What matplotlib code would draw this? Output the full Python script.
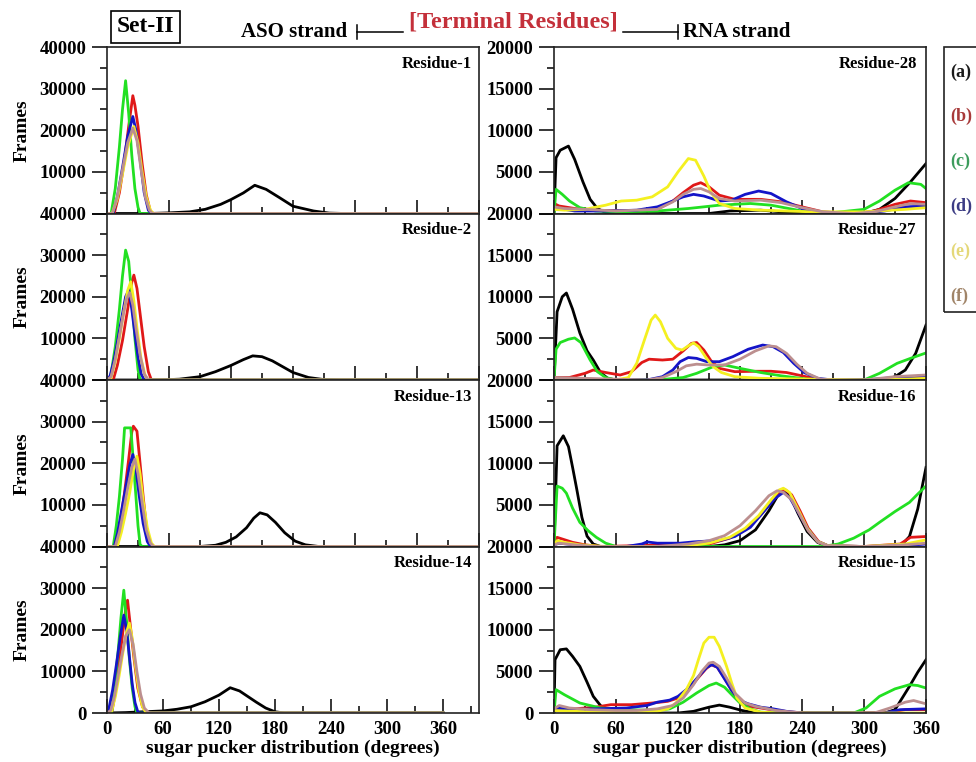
import matplotlib
matplotlib.use('Agg')
import matplotlib.pyplot as plt
from matplotlib.patches import Rectangle
from matplotlib.lines import Line2D
from matplotlib.ticker import MultipleLocator

plt.rcParams['font.family'] = ['Liberation Serif', 'DejaVu Serif']
plt.rcParams['font.weight'] = 'bold'

# (angle in degrees, frames) for every set; a..f as in the legend
# ---- ASO strand ----
r1_a = [(0, 0), (40, 0), (60, 150), (80, 400), (95, 1000), (110, 2200), (120, 3350), (132, 4950), (143, 6780),
        (154, 5800), (167, 3800), (180, 1750), (200, 600), (215, 100), (230, 0), (360, 0)]
r1_b = [(0, 0), (7, 0), (12, 5000), (17, 13000), (21, 21000), (25, 28300), (27, 26000), (30, 21000), (34, 12000),
        (38, 4500), (42, 500), (45, 0), (360, 0)]
r1_c = [(0, 0), (4, 0), (8, 6000), (12, 16000), (15, 25000), (18, 31900), (21, 24000), (24, 14000), (27, 6000),
        (30, 1500), (32, 0), (360, 0)]
r1_d = [(0, 0), (6, 0), (10, 4000), (15, 11000), (20, 18500), (25, 23300), (28, 20000), (32, 13000), (36, 5000),
        (40, 800), (43, 0), (360, 0)]
r1_e = [(0, 0), (5, 0), (10, 3500), (15, 9500), (20, 16000), (26, 20900), (30, 17000), (34, 10000), (38, 4000),
        (42, 800), (45, 0), (360, 0)]
r1_f = [(0, 0), (5, 0), (10, 4000), (15, 10500), (20, 17000), (25, 20500), (29, 17500), (33, 10500), (37, 4000),
        (41, 800), (44, 0), (360, 0)]

r2_a = [(0, 0), (50, 0), (70, 200), (90, 800), (105, 2000), (120, 3500), (132, 4900), (141, 5800), (150, 5600),
        (160, 4600), (170, 3200), (180, 1800), (195, 600), (210, 100), (225, 0), (360, 0)]
r2_b = [(0, 0), (6, 0), (10, 3500), (15, 9500), (20, 17000), (24, 23500), (26, 25200), (29, 22000), (32, 16000),
        (36, 8000), (40, 2000), (43, 0), (360, 0)]
r2_c = [(0, 0), (3, 0), (8, 8000), (12, 17000), (15, 25000), (18, 31200), (21, 28500), (24, 20000), (27, 10000),
        (30, 2500), (32, 0), (360, 0)]
r2_d = [(0, 0), (3, 1000), (7, 5000), (11, 10500), (15, 16000), (18, 20000), (21, 21600), (24, 17000), (27, 11000),
        (30, 5500), (33, 1500), (36, 0), (360, 0)]
r2_e = [(0, 0), (4, 500), (8, 4500), (12, 10000), (16, 16000), (20, 21500), (23, 23600), (26, 19000), (29, 12500),
        (33, 5000), (37, 1000), (40, 0), (360, 0)]
r2_f = [(0, 0), (4, 800), (8, 5000), (12, 10500), (16, 16000), (19, 19500), (22, 21000), (25, 18000), (28, 12500),
        (32, 6000), (36, 1500), (40, 0), (360, 0)]

r13_a = [(0, 0), (90, 0), (105, 300), (115, 1000), (125, 2300), (135, 4500), (142, 6800), (148, 8100), (155, 7600),
         (163, 5800), (172, 3300), (182, 1300), (192, 400), (205, 0), (360, 0)]
r13_b = [(0, 0), (9, 0), (13, 6000), (17, 13000), (21, 21000), (24, 27500), (25.5, 28900), (29, 27700), (32, 20000),
         (35, 12000), (38, 5000), (41, 1000), (43, 0), (360, 0)]
r13_c = [(0, 0), (6, 0), (9, 5000), (12, 12000), (15, 21000), (17, 28500), (23, 28500), (25, 22000), (28, 12000),
         (30, 5000), (32, 500), (34, 0), (360, 0)]
r13_d = [(0, 0), (7, 0), (10, 3000), (14, 8500), (18, 14000), (22, 19500), (25, 22100), (28, 18500), (31, 12500),
         (35, 5500), (39, 1200), (42, 0), (360, 0)]
r13_e = [(0, 0), (10, 0), (14, 3500), (18, 8000), (22, 13000), (26, 19000), (29, 21700), (32, 17500), (35, 11000),
         (39, 4500), (43, 800), (46, 0), (360, 0)]
r13_f = [(0, 0), (8, 0), (12, 3500), (16, 8500), (20, 14000), (24, 19000), (27, 21000), (30, 17500), (34, 10500),
         (38, 4000), (42, 800), (45, 0), (360, 0)]

r14_a = [(0, 0), (20, 100), (40, 300), (60, 500), (75, 900), (90, 1500), (105, 2700), (120, 4300), (132, 6070),
         (142, 5300), (150, 4100), (160, 2600), (170, 1200), (180, 300), (190, 0), (360, 0)]
r14_b = [(0, 0), (5, 0), (9, 5000), (13, 12000), (17, 19500), (20, 25000), (22, 27100), (25, 21000), (29, 13000),
         (33, 6000), (38, 1500), (43, 0), (360, 0)]
r14_c = [(0, 0), (5, 0), (8, 6000), (12, 15000), (15, 23000), (18, 29500), (21, 22000), (24, 13000), (27, 6000),
         (30, 1500), (32, 0), (360, 0)]
r14_d = [(0, 0), (2, 1000), (6, 5500), (10, 11500), (14, 18000), (18, 23500), (21, 20000), (24, 13500), (27, 7000),
         (30, 2500), (33, 300), (35, 0), (360, 0)]
r14_e = [(0, 0), (5, 500), (9, 4000), (13, 9000), (17, 14500), (21, 19500), (24, 21600), (27, 18000), (30, 12000),
         (34, 5500), (38, 1500), (42, 0), (360, 0)]
r14_f = [(0, 0), (4, 600), (8, 4000), (12, 9000), (16, 14000), (20, 18500), (24, 20000), (28, 16500), (32, 10000),
         (36, 4500), (40, 1200), (45, 0), (360, 0)]

# ---- RNA strand ----
r28_a = [(0, 0), (2, 6700), (6, 7600), (14, 8100), (20, 6500), (28, 3800), (35, 1700), (42, 600), (50, 100), (60, 0),
         (150, 0), (170, 300), (200, 400), (230, 100), (250, 0), (300, 0), (315, 500), (330, 1800), (345, 3800),
         (360, 6000)]
r28_b = [(0, 1200), (5, 900), (20, 600), (40, 400), (70, 300), (100, 500), (115, 1500), (125, 2500), (135, 3400),
         (142, 3700), (150, 3200), (160, 2200), (175, 1700), (200, 1700), (220, 1400), (240, 800), (260, 200),
         (290, 0), (310, 300), (330, 1100), (345, 1500), (360, 1300)]
r28_c = [(0, 0), (2, 2900), (8, 2300), (15, 1500), (25, 700), (40, 300), (60, 200), (100, 300), (130, 600),
         (160, 1000), (190, 1200), (210, 1000), (240, 300), (270, 100), (300, 500), (315, 1500), (330, 2800),
         (343, 3700), (355, 3500), (360, 3000)]
r28_d = [(0, 600), (10, 500), (20, 300), (50, 300), (80, 400), (100, 800), (115, 1500), (125, 2000), (135, 2300),
         (145, 2100), (160, 1500), (172, 1600), (185, 2300), (198, 2700), (210, 2400), (225, 1400), (240, 600),
         (255, 200), (270, 0), (300, 0), (320, 300), (340, 800), (360, 900)]
r28_e = [(0, 500), (10, 400), (30, 500), (50, 1000), (65, 1500), (80, 1600), (95, 2000), (110, 3200), (120, 5000),
         (130, 6600), (137, 6400), (145, 4500), (152, 2500), (160, 1200), (175, 600), (200, 400), (250, 200),
         (300, 200), (340, 500), (360, 700)]
r28_f = [(0, 800), (10, 600), (30, 500), (60, 300), (100, 500), (115, 1400), (125, 2300), (135, 2900), (142, 3000),
         (150, 2600), (160, 1800), (175, 1500), (200, 1600), (220, 1300), (240, 700), (260, 200), (290, 0),
         (310, 200), (330, 800), (345, 1200), (360, 1100)]

r27_a = [(0, 0), (3, 8200), (8, 10000), (12, 10450), (18, 8500), (25, 5650), (32, 3500), (38, 2400), (45, 900),
         (52, 200), (60, 0), (320, 0), (330, 400), (340, 1200), (350, 3200), (360, 6600)]
r27_b = [(0, 300), (15, 300), (30, 800), (38, 1200), (50, 900), (64, 600), (75, 1000), (85, 2100), (92, 2500),
         (105, 2400), (115, 2500), (125, 3500), (133, 4400), (138, 4500), (145, 3600), (152, 2300), (160, 1400),
         (175, 1000), (195, 1050), (210, 1050), (225, 900), (240, 500), (255, 100), (270, 0), (330, 0), (345, 200),
         (360, 300)]
r27_c = [(0, 0), (2, 3700), (6, 4500), (14, 4900), (20, 5050), (26, 4500), (35, 2400), (42, 1000), (50, 300),
         (60, 0), (100, 0), (125, 300), (138, 800), (154, 1600), (165, 1800), (180, 1400), (200, 900), (220, 500),
         (245, 100), (270, 0), (300, 0), (315, 800), (332, 2000), (345, 2600), (360, 3250)]
r27_d = [(0, 200), (30, 100), (60, 0), (90, 0), (105, 400), (115, 1200), (122, 2200), (130, 2700), (138, 2600),
         (148, 2200), (160, 2200), (173, 2800), (188, 3700), (202, 4200), (212, 4000), (222, 3300), (232, 2000),
         (242, 900), (255, 200), (270, 0), (300, 0), (330, 300), (360, 500)]
r27_e = [(0, 200), (30, 100), (60, 0), (72, 300), (80, 2000), (88, 5000), (94, 7200), (98, 7800), (103, 7000),
         (110, 5000), (118, 3800), (124, 3600), (130, 4100), (135, 4450), (140, 4000), (147, 2700), (154, 1600),
         (162, 900), (175, 400), (200, 200), (250, 100), (300, 0), (340, 100), (360, 200)]
r27_f = [(0, 300), (30, 200), (60, 100), (90, 0), (105, 300), (118, 1000), (128, 1700), (138, 1900), (150, 1800),
         (165, 1800), (180, 2500), (195, 3500), (208, 4100), (215, 4000), (225, 3200), (235, 1900), (245, 800),
         (258, 100), (270, 0), (300, 0), (330, 400), (360, 600)]

r16_a = [(0, 0), (3, 12100), (9, 13300), (14, 12000), (18, 9500), (22, 6900), (27, 3500), (32, 1240), (38, 300),
         (45, 0), (150, 0), (165, 200), (180, 700), (195, 2000), (208, 4300), (216, 6000), (222, 6900), (228, 6200),
         (236, 4000), (245, 1800), (255, 500), (265, 0), (335, 0), (344, 1200), (352, 4500), (360, 9500)]
r16_b = [(0, 300), (3, 1100), (8, 900), (18, 500), (30, 200), (45, 0), (150, 300), (170, 1000), (185, 2000),
         (200, 3800), (212, 5600), (220, 6600), (224, 6800), (230, 6200), (238, 4300), (246, 2200), (256, 600),
         (265, 100), (300, 0), (335, 300), (345, 1100), (360, 1200)]
r16_c = [(0, 0), (3, 7260), (8, 7000), (12, 6400), (18, 4600), (25, 2900), (33, 1900), (41, 1100), (50, 400),
         (60, 0), (260, 0), (275, 300), (290, 1000), (305, 2000), (315, 2900), (330, 4200), (344, 5300),
         (352, 6300), (360, 7260)]
r16_d = [(0, 200), (5, 400), (20, 200), (40, 0), (70, 0), (85, 300), (90, 550), (100, 400), (122, 400), (135, 550),
         (148, 650), (160, 700), (175, 1200), (190, 2300), (203, 4200), (214, 5800), (222, 6500), (228, 5900),
         (236, 4200), (245, 2200), (255, 600), (265, 100), (300, 0), (340, 100), (360, 300)]
r16_e = [(0, 200), (3, 700), (10, 500), (25, 200), (50, 0), (100, 0), (130, 100), (150, 400), (170, 1100),
         (185, 2200), (198, 3700), (210, 5600), (218, 6800), (222, 7000), (228, 6500), (236, 4500), (245, 2200),
         (255, 600), (265, 100), (300, 0), (340, 300), (360, 800)]
r16_f = [(0, 200), (5, 400), (20, 200), (40, 0), (100, 0), (130, 300), (150, 700), (165, 1300), (180, 2500),
         (195, 4300), (208, 6100), (216, 6700), (222, 6500), (230, 5600), (238, 3800), (246, 1900), (256, 500),
         (265, 100), (300, 0), (340, 200), (360, 400)]

r15_a = [(0, 0), (1, 6400), (6, 7600), (12, 7700), (18, 6800), (25, 5600), (32, 3700), (38, 2000), (45, 900),
         (51, 360), (60, 0), (120, 0), (135, 200), (150, 700), (160, 950), (170, 700), (182, 300), (195, 0),
         (320, 0), (330, 400), (344, 3200), (352, 4900), (360, 6400)]
r15_b = [(0, 200), (5, 500), (20, 500), (40, 700), (55, 1000), (75, 1000), (95, 1200), (110, 1400), (120, 1800),
         (130, 2800), (140, 4300), (147, 5300), (152, 5800), (158, 5500), (165, 4200), (172, 2700), (180, 1400),
         (190, 800), (210, 400), (230, 100), (250, 0), (320, 0), (340, 400), (360, 400)]
r15_c = [(0, 0), (2, 2800), (10, 2200), (25, 1200), (45, 600), (70, 400), (100, 300), (112, 500), (125, 1300),
         (138, 2400), (150, 3300), (157, 3600), (165, 3100), (172, 2200), (180, 1200), (190, 500), (200, 100),
         (220, 0), (290, 0), (302, 600), (315, 2000), (330, 2900), (344, 3400), (352, 3300), (360, 3000)]
r15_d = [(0, 200), (3, 600), (15, 400), (40, 500), (70, 600), (90, 900), (100, 1300), (112, 1550), (120, 2000),
         (130, 3000), (140, 4400), (148, 5500), (153, 5800), (158, 5500), (165, 4100), (172, 2700), (180, 1500),
         (188, 1100), (200, 700), (212, 500), (225, 200), (240, 0), (320, 0), (335, 400), (360, 500)]
r15_e = [(0, 300), (20, 200), (50, 100), (80, 100), (100, 200), (110, 500), (118, 1200), (128, 2800), (135, 4500),
         (140, 6500), (145, 8400), (150, 9100), (155, 9100), (160, 8000), (167, 5600), (172, 3600), (177, 1800),
         (185, 600), (200, 100), (220, 0), (360, 0)]
r15_f = [(0, 500), (5, 900), (15, 600), (35, 400), (60, 300), (80, 300), (100, 500), (115, 900), (125, 1800),
         (135, 3400), (143, 5000), (150, 6000), (154, 6100), (160, 5600), (167, 4200), (175, 2400), (185, 1200),
         (195, 800), (215, 300), (240, 0), (310, 0), (325, 600), (340, 1300), (348, 1500), (360, 1100)]

set_labels = ['(a)', '(b)', '(c)', '(d)', '(e)', '(f)']
line_colors = ['#000000', '#e01818', '#22e022', '#1414c8', '#f4f020', '#bc8f8f']
text_colors = ['#1a1a1a', '#a83a3a', '#3c9c5c', '#3c3c84', '#e4d878', '#a08468']

left_panels = [('Residue-1', [r1_a, r1_b, r1_c, r1_d, r1_e, r1_f]),
               ('Residue-2', [r2_a, r2_b, r2_c, r2_d, r2_e, r2_f]),
               ('Residue-13', [r13_a, r13_b, r13_c, r13_d, r13_e, r13_f]),
               ('Residue-14', [r14_a, r14_b, r14_c, r14_d, r14_e, r14_f])]
right_panels = [('Residue-28', [r28_a, r28_b, r28_c, r28_d, r28_e, r28_f]),
                ('Residue-27', [r27_a, r27_b, r27_c, r27_d, r27_e, r27_f]),
                ('Residue-16', [r16_a, r16_b, r16_c, r16_d, r16_e, r16_f]),
                ('Residue-15', [r15_a, r15_b, r15_c, r15_d, r15_e, r15_f])]

W, H = 976, 762
fig = plt.figure(figsize=(W / 100, H / 100), dpi=100)


def px_axes(x0, top, w, h):
    return fig.add_axes([x0 / W, 1 - (top + h) / H, w / W, h / H])


def style_axes(ax, ymax, ystep, bottom, xmax):
    ax.set_xlim(0, xmax)
    ax.set_ylim(0, ymax)
    ax.xaxis.set_major_locator(MultipleLocator(60))
    ax.xaxis.set_minor_locator(MultipleLocator(30))
    ax.set_xticks([0, 60, 120, 180, 240, 300, 360])
    ticks = [ystep * i for i in range(5)]
    ax.set_yticks(ticks)
    ax.set_yticklabels([str(t) if (t > 0 or bottom) else '' for t in ticks])
    ax.yaxis.set_minor_locator(MultipleLocator(ystep / 2))
    ax.tick_params(axis='x', which='both', direction='in', top=False, labelbottom=bottom,
                   labelsize=13.5, pad=6)
    ax.tick_params(axis='x', which='major', length=10, width=1.1)
    ax.tick_params(axis='x', which='minor', length=5, width=1.1)
    ax.tick_params(axis='y', which='both', direction='out', right=False, labelsize=13.5, pad=4)
    ax.tick_params(axis='y', which='major', length=11, width=1.1)
    ax.tick_params(axis='y', which='minor', length=5, width=1.1)
    for s in ax.spines.values():
        s.set_linewidth(1.2)
        s.set_color('#222222')


tops = [47, 213.5, 380, 546.5]
ph = 166.5

for i, (name, sets) in enumerate(left_panels):
    ax = px_axes(107, tops[i], 372, ph)
    bottom = i == 3
    for pts, c in zip(sets, line_colors):
        ax.plot([p[0] for p in pts], [p[1] for p in pts], color=c, lw=2.0, solid_joinstyle='round')
    style_axes(ax, 40000, 10000, bottom, 398.6 if bottom else 360)
    ax.set_ylabel('Frames', fontsize=14, fontweight='bold', labelpad=6)
    ax.text(0.982, 0.9, name, transform=ax.transAxes, ha='right', va='center', fontsize=12, fontweight='bold')
    if bottom:
        ax.set_xlabel('sugar pucker distribution (degrees)', fontsize=14, fontweight='bold', labelpad=1)

for i, (name, sets) in enumerate(right_panels):
    ax = px_axes(554, tops[i], 372, ph)
    bottom = i == 3
    for pts, c in zip(sets, line_colors):
        ax.plot([p[0] for p in pts], [p[1] for p in pts], color=c, lw=2.0, solid_joinstyle='round')
    style_axes(ax, 20000, 5000, bottom, 360)
    ax.text(0.975, 0.9, name, transform=ax.transAxes, ha='right', va='center', fontsize=12, fontweight='bold')
    if bottom:
        ax.set_xlabel('sugar pucker distribution (degrees)', fontsize=14, fontweight='bold', labelpad=1)

# header
fig.text(145.5 / W, 1 - 27 / H, 'Set-II', ha='center', va='center', fontsize=17, fontweight='bold',
         bbox=dict(boxstyle='square,pad=0.25', fc='white', ec='black', lw=1.2))
fig.text(347 / W, 1 - 32 / H, 'ASO strand', ha='right', va='center', fontsize=15, fontweight='bold')
fig.text(513 / W, 1 - 22 / H, '[Terminal Residues]', ha='center', va='center', fontsize=17.5,
         fontweight='bold', color='#c4303a')
fig.text(683 / W, 1 - 32 / H, 'RNA strand', ha='left', va='center', fontsize=15, fontweight='bold')
yl = 1 - 32 / H
fig.add_artist(Line2D([357 / W, 403 / W], [yl, yl], color='black', lw=1.1))
fig.add_artist(Line2D([357 / W, 357 / W], [yl - 7 / H, yl + 7 / H], color='black', lw=1.1))
fig.add_artist(Line2D([623 / W, 678 / W], [yl, yl], color='black', lw=1.1))
fig.add_artist(Line2D([678 / W, 678 / W], [yl - 7 / H, yl + 7 / H], color='black', lw=1.1))

# legend box on the right edge
fig.add_artist(Rectangle((944 / W, 1 - 312 / H), 60 / W, 265 / H, fill=False, ec='#222222', lw=1.2,
                         transform=fig.transFigure))
for k, (lab, tc) in enumerate(zip(set_labels, text_colors)):
    fig.text(950 / W, 1 - (72 + 44.8 * k) / H, lab, ha='left', va='center', fontsize=13,
             fontweight='bold', color=tc)

fig.savefig('out.png', dpi=100)
